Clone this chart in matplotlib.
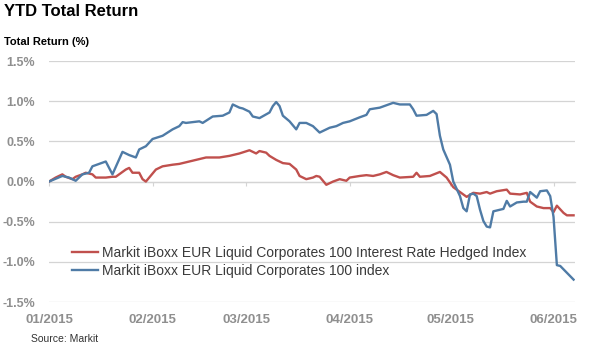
import matplotlib
matplotlib.use("Agg")
import matplotlib.pyplot as plt
import matplotlib.dates as mdates
import pandas as pd

# ---- data ----
hedged_dates = ["2015-01-01","2015-01-03","2015-01-05","2015-01-06","2015-01-08","2015-01-09",
    "2015-01-11","2015-01-12","2015-01-14","2015-01-15","2015-01-18","2015-01-20","2015-01-21",
    "2015-01-22","2015-01-24","2015-01-25","2015-01-26","2015-01-28","2015-01-29","2015-01-30",
    "2015-01-31","2015-02-02","2015-02-04","2015-02-07","2015-02-09","2015-02-11","2015-02-14",
    "2015-02-17","2015-02-19","2015-02-21","2015-02-24","2015-02-27","2015-03-02","2015-03-03",
    "2015-03-04","2015-03-05","2015-03-07","2015-03-08","2015-03-10","2015-03-12","2015-03-14",
    "2015-03-16","2015-03-17","2015-03-19","2015-03-21","2015-03-22","2015-03-23","2015-03-25",
    "2015-03-27","2015-03-29","2015-03-31","2015-04-01","2015-04-04","2015-04-06","2015-04-08",
    "2015-04-10","2015-04-12","2015-04-14","2015-04-16","2015-04-20","2015-04-21","2015-04-22",
    "2015-04-25","2015-04-28","2015-04-30","2015-05-02","2015-05-04","2015-05-06","2015-05-08",
    "2015-05-10","2015-05-12","2015-05-13","2015-05-15","2015-05-18","2015-05-19","2015-05-22",
    "2015-05-24","2015-05-25","2015-05-27","2015-05-29","2015-05-31","2015-06-01","2015-06-02",
    "2015-06-04","2015-06-05","2015-06-07"]
hedged_vals = [0.00,0.05,0.09,0.06,0.03,0.06,
    0.09,0.11,0.09,0.05,0.05,0.06,0.06,
    0.09,0.15,0.17,0.11,0.11,0.03,0.00,
    0.05,0.15,0.19,0.21,0.22,0.24,0.27,
    0.30,0.30,0.30,0.32,0.35,0.39,0.37,
    0.35,0.38,0.36,0.32,0.27,0.23,0.22,
    0.15,0.07,0.03,0.05,0.07,0.06,-0.04,
    0.00,0.03,0.01,0.05,0.07,0.08,0.07,
    0.09,0.12,0.08,0.05,0.06,0.11,0.06,
    0.07,0.12,0.05,-0.07,-0.13,-0.19,-0.14,
    -0.15,-0.13,-0.15,-0.12,-0.10,-0.15,-0.16,
    -0.14,-0.25,-0.31,-0.33,-0.33,-0.38,-0.30,
    -0.39,-0.42,-0.42]

index_dates = ["2015-01-01","2015-01-05","2015-01-07","2015-01-09","2015-01-11","2015-01-13",
    "2015-01-14","2015-01-16","2015-01-18","2015-01-20","2015-01-23","2015-01-25","2015-01-27",
    "2015-01-28","2015-01-30","2015-02-01","2015-02-04","2015-02-07","2015-02-09","2015-02-10",
    "2015-02-11","2015-02-15","2015-02-16","2015-02-19","2015-02-22","2015-02-24","2015-02-25",
    "2015-02-27","2015-02-28","2015-03-02","2015-03-03","2015-03-05","2015-03-08","2015-03-09",
    "2015-03-10","2015-03-11","2015-03-12","2015-03-14","2015-03-16","2015-03-17","2015-03-19",
    "2015-03-21","2015-03-23","2015-03-26","2015-03-28","2015-03-30","2015-04-01","2015-04-04",
    "2015-04-06","2015-04-07","2015-04-10","2015-04-12","2015-04-14","2015-04-16","2015-04-19",
    "2015-04-20","2015-04-21","2015-04-24","2015-04-26","2015-04-27","2015-04-28","2015-04-29",
    "2015-05-01","2015-05-02","2015-05-04","2015-05-05","2015-05-06","2015-05-07","2015-05-08",
    "2015-05-09","2015-05-10","2015-05-11","2015-05-12","2015-05-13","2015-05-14","2015-05-15",
    "2015-05-17","2015-05-18","2015-05-19","2015-05-21","2015-05-23","2015-05-24","2015-05-25",
    "2015-05-27","2015-05-28","2015-05-30","2015-05-31","2015-06-01","2015-06-02","2015-06-03",
    "2015-06-07"]
index_vals = [0.00,0.07,0.05,0.01,0.09,0.11,
    0.19,0.22,0.25,0.09,0.37,0.33,0.30,
    0.40,0.44,0.53,0.57,0.65,0.69,0.74,
    0.73,0.75,0.73,0.81,0.82,0.86,0.96,
    0.92,0.91,0.87,0.81,0.79,0.86,0.94,
    0.99,0.94,0.82,0.75,0.65,0.73,0.73,
    0.69,0.61,0.67,0.69,0.73,0.75,0.80,
    0.83,0.90,0.92,0.95,0.98,0.96,0.96,
    0.90,0.82,0.83,0.88,0.84,0.57,0.40,
    0.21,0.00,-0.18,-0.33,-0.37,-0.16,-0.15,
    -0.18,-0.35,-0.49,-0.56,-0.57,-0.37,-0.36,
    -0.34,-0.24,-0.31,-0.26,-0.25,-0.25,-0.13,
    -0.20,-0.12,-0.11,-0.18,-0.44,-1.04,-1.05,
    -1.22]

series_labels = ["Markit iBoxx EUR Liquid Corporates 100 Interest Rate Hedged Index",
                 "Markit iBoxx EUR Liquid Corporates 100 index"]
y_ticks = [-1.5, -1.0, -0.5, 0.0, 0.5, 1.0, 1.5]
month_ticks = ["2015-01-01","2015-02-01","2015-03-01","2015-04-01","2015-05-01","2015-06-01"]

# ---- style ----
RED = "#c0504d"
BLUE = "#4f7ba6"
GRID = "#d4d4d4"
TICKC = "#8f8f8f"
plt.rcParams['font.family'] = ['Liberation Sans', 'DejaVu Sans']

fig = plt.figure(figsize=(5.9, 3.55), dpi=100)
ax = fig.add_axes([0.083, 0.149, 0.892, 0.679])

ax.plot(pd.to_datetime(hedged_dates), hedged_vals, color=RED, lw=1.7, label=series_labels[0], zorder=3)
ax.plot(pd.to_datetime(index_dates), index_vals, color=BLUE, lw=1.7, label=series_labels[1], zorder=3)

ax.set_ylim(-1.5, 1.5)
ax.set_xlim(pd.Timestamp("2015-01-01"), pd.Timestamp("2015-06-07 12:00"))
ax.set_yticks(y_ticks)
ax.set_yticklabels([f"{v:.1f}%" for v in y_ticks])
ax.yaxis.grid(True, color=GRID, lw=0.9)
ax.set_axisbelow(True)
for s in ["top", "right", "left"]:
    ax.spines[s].set_visible(False)
ax.spines["bottom"].set_position(("data", 0))
ax.spines["bottom"].set_color(GRID)
ax.spines["bottom"].set_linewidth(0.9)

ticks = pd.to_datetime(month_ticks)
ax.set_xticks(ticks)
ax.tick_params(axis="x", direction="out", length=3, color=GRID, labelbottom=False)
ax.tick_params(axis="y", length=0, pad=10, labelsize=9, labelcolor=TICKC)
for t in ax.get_yticklabels():
    t.set_fontweight("bold")

sec = ax.secondary_xaxis("bottom")
sec.set_xticks(ticks)
sec.xaxis.set_major_formatter(mdates.DateFormatter("%m/%Y"))
sec.tick_params(length=0, pad=8.5, labelsize=9.5, labelcolor=TICKC)
sec.spines["bottom"].set_visible(False)
for t in sec.get_xticklabels():
    t.set_fontweight("bold")

leg = ax.legend(loc="center left", bbox_to_anchor=(72/590, 1-262/355), bbox_transform=fig.transFigure,
                frameon=False, borderpad=0, borderaxespad=0, handlelength=1.9, handletextpad=0.25,
                labelspacing=0.3, fontsize=10)
for t in leg.get_texts():
    t.set_color("#3a3a3a")

fig.text(4/590, 1-12/355, "YTD Total Return", fontsize=12, fontweight="bold", va="center", ha="left")
fig.text(4/590, 1-42/355, "Total Return (%)", fontsize=8, fontweight="bold", va="center", ha="left")
fig.text(31/590, 1-339/355, "Source: Markit", fontsize=7.5, va="center", ha="left", color="#333333")

fig.savefig("out.png", dpi=100)
